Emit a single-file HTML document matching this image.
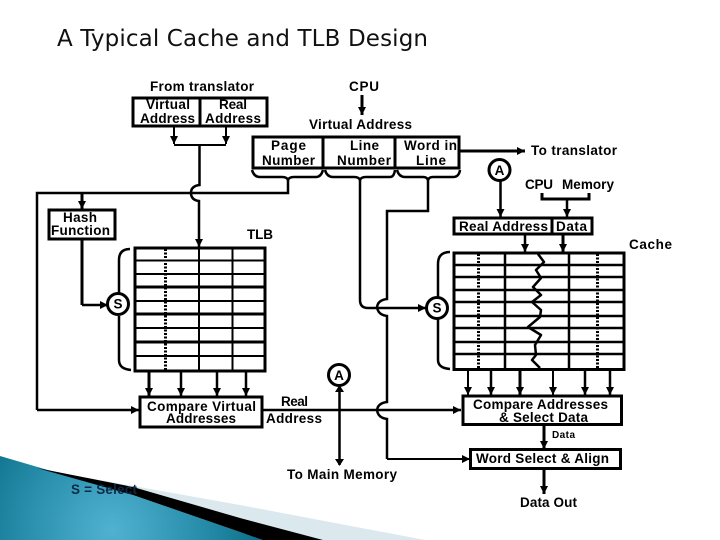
<!DOCTYPE html>
<html><head><meta charset="utf-8"><style>
html,body{margin:0;padding:0;background:#fff}
svg{display:block}
text{font-family:"Liberation Sans",Arial,sans-serif;font-size:13.5px;font-weight:700;fill:#000}
.l{fill:none;stroke:#000;stroke-width:2}
.t{fill:none;stroke:#000;stroke-width:3}
</style></head><body>
<svg xmlns="http://www.w3.org/2000/svg" width="720" height="540" viewBox="0 0 720 540">
<defs>
<radialGradient id="g" gradientUnits="userSpaceOnUse" cx="112" cy="530" r="150"><stop offset="0" stop-color="#50b2d0"/><stop offset="0.55" stop-color="#2a90ae"/><stop offset="1" stop-color="#0a7089"/></radialGradient>
<marker id="a" markerUnits="userSpaceOnUse" markerWidth="10" markerHeight="10" refX="8" refY="4" orient="auto"><path d="M0 0L8 4L0 8z" fill="#000"/></marker>
</defs>
<rect width="720" height="540" fill="#fff"/>

<!-- corner decoration -->
<polygon points="83,477 240,505 425,540 323,540" fill="#dbe9ef"/>
<polygon points="0,456 133,495 240,532 265,540 0,540" fill="url(#g)"/>
<polygon points="37,468 133,487 240,518 323,540 263,540 240,532 133,495" fill="#000"/>
<text x="71" y="494" textLength="66" style="fill:#0e2a48">S = Select</text>

<!-- title -->
<text x="57" y="46" textLength="371" style="font-family:'DejaVu Sans',sans-serif;font-size:23px;font-weight:400;fill:#111">A Typical Cache and TLB Design</text>

<!-- From translator box -->
<text x="150" y="91" textLength="104">From translator</text>
<rect x="133" y="98" width="134" height="28" class="t"/>
<line x1="200" y1="98" x2="200" y2="126" class="t"/>
<text x="146" y="109" textLength="44">Virtual</text>
<text x="219" y="109" textLength="28">Real</text>
<text x="140" y="123" textLength="55">Address</text>
<text x="205" y="123" textLength="56">Address</text>
<line x1="174" y1="126" x2="174" y2="144" class="l" marker-end="url(#a)"/>
<line x1="226" y1="126" x2="226" y2="144" class="l" marker-end="url(#a)"/>
<path d="M174 145H226" class="l"/>
<path d="M199.500 145V185Q191 186 191 193Q191 200 199 201V247" class="l" style="stroke-width:2.500" marker-end="url(#a)"/>

<!-- CPU -->
<text x="349" y="91" textLength="30">CPU</text>
<line x1="362" y1="95" x2="362" y2="115" class="t" marker-end="url(#a)"/>
<text x="309" y="129" textLength="103">Virtual Address</text>

<!-- Address fields -->
<rect x="253" y="137" width="206" height="31" class="t"/>
<line x1="323" y1="137" x2="323" y2="168" class="t"/>
<line x1="395" y1="137" x2="395" y2="168" class="t"/>
<text x="271" y="150" textLength="35">Page</text>
<text x="262" y="165" textLength="53">Number</text>
<text x="350" y="150" textLength="29">Line</text>
<text x="337" y="165" textLength="54">Number</text>
<text x="404" y="150" textLength="53">Word in</text>
<text x="416" y="165" textLength="30">Line</text>

<!-- braces -->
<path d="M252 170Q254 177 260 177H282Q287 177 288 180Q289 177 294 177H316Q321 177 323 170" class="l" style="stroke-width:2.500"/>
<path d="M325 170Q327 177 333 177H354Q359 177 360 180Q361 177 366 177H390Q394 177 395 170" class="l" style="stroke-width:2.500"/>
<path d="M397 170Q399 177 405 177H423Q427 177 428 180Q429 177 433 177H453Q459 177 460 170" class="l" style="stroke-width:2.500"/>

<!-- page number line -->
<path d="M288 178V193H37V410" class="l" style="stroke-width:2.500"/>
<line x1="37" y1="410" x2="139" y2="410" class="l" style="stroke-width:2.500" marker-end="url(#a)"/>
<line x1="82" y1="193" x2="82" y2="209" class="t" marker-end="url(#a)"/>

<!-- Hash -->
<rect x="49" y="210" width="66" height="29" class="t"/>
<text x="63" y="222" textLength="34">Hash</text>
<text x="51" y="235" textLength="59">Function</text>
<path d="M82 239V305" class="t"/>
<line x1="82" y1="305" x2="108" y2="305" class="l" style="stroke-width:2.500" marker-end="url(#a)"/>
<text x="247" y="239" textLength="26">TLB</text>

<!-- TLB table -->
<rect x="135" y="248" width="130" height="123" class="t"/>
<path d="M135 260.500H265M135 274H265M135 301H265M135 328H265M135 356H265" class="l"/>
<path d="M135 287H265M135 314H265M135 342H265" class="t"/>
<path d="M199 247V371M232.500 247V371" class="l"/>
<path d="M165.500 249V370" class="t" style="stroke-dasharray:2 1.500"/>

<!-- TLB brace and S -->
<path d="M130 249Q119 249 119 260V293M119 316V360Q119 369 131 370" class="l" style="stroke-width:2.500"/>
<circle cx="118" cy="304" r="10.500" fill="#fff" stroke="#000" stroke-width="3"/>
<text x="118" y="308.500" text-anchor="middle">S</text>

<!-- TLB to compare -->
<line x1="149" y1="372" x2="149" y2="396" class="t" marker-end="url(#a)"/>
<line x1="181" y1="372" x2="181" y2="396" class="l" style="stroke-width:2.500" marker-end="url(#a)"/>
<line x1="217" y1="372" x2="217" y2="396" class="l" style="stroke-width:2.500" marker-end="url(#a)"/>
<line x1="246" y1="372" x2="246" y2="396" class="l" style="stroke-width:2.500" marker-end="url(#a)"/>

<!-- Compare Virtual -->
<rect x="140" y="397" width="122" height="30" class="t"/>
<text x="147" y="411" textLength="109">Compare Virtual</text>
<text x="166" y="423" textLength="70">Addresses</text>
<text x="281" y="406" textLength="27">Real</text>
<text x="266" y="423" textLength="56">Address</text>
<line x1="262" y1="410" x2="461" y2="410" class="l" style="stroke-width:2.500" marker-end="url(#a)"/>

<!-- A below TLB -->
<line x1="339.500" y1="387" x2="339.500" y2="465" class="l" style="stroke-width:2.500"/>
<path d="M335 392L339.500 385L344 392zM335 459L339.500 466L344 459z" fill="#000"/>
<circle cx="339" cy="375" r="10.500" fill="#fff" stroke="#000" stroke-width="3"/>
<text x="339" y="380" text-anchor="middle">A</text>
<text x="287" y="479" textLength="110">To Main Memory</text>

<!-- line number route -->
<path d="M360 178V300Q360 308 368 308H378" class="l" style="stroke-width:2.500"/>
<line x1="378" y1="308" x2="426" y2="308" class="l" style="stroke-width:2.500" marker-end="url(#a)"/>
<path d="M428 178V211H387V299Q378 300 377 307Q378 315 387 316V402Q378 403 377 410Q378 418 387 419V459" class="l" style="stroke-width:2.500;fill:none"/>
<line x1="387" y1="459" x2="470" y2="459" class="l" style="stroke-width:2" marker-end="url(#a)"/>

<!-- To translator -->
<line x1="460" y1="151" x2="525" y2="151" class="t" marker-end="url(#a)"/>
<text x="531" y="155" textLength="86">To translator</text>
<line x1="500.500" y1="181" x2="500.500" y2="217" class="l" style="stroke-width:2.500" marker-end="url(#a)"/>
<circle cx="499.500" cy="170" r="10.500" fill="#fff" stroke="#000" stroke-width="3"/>
<text x="499.500" y="175" text-anchor="middle">A</text>
<text x="525" y="189" textLength="28">CPU</text>
<text x="562" y="189" textLength="52">Memory</text>
<path d="M542 193V199H589V193" class="t"/>
<line x1="567" y1="199" x2="567" y2="217" class="l" style="stroke-width:2.500" marker-end="url(#a)"/>

<!-- Real Address / Data -->
<rect x="454" y="218" width="138" height="16" class="t"/>
<line x1="552" y1="218" x2="552" y2="234" class="t"/>
<text x="459" y="231" textLength="89">Real Address</text>
<text x="556" y="231" textLength="31">Data</text>
<line x1="525" y1="235" x2="525" y2="252" class="l" style="stroke-width:2.500" marker-end="url(#a)"/>
<line x1="563" y1="235" x2="563" y2="252" class="t" marker-end="url(#a)"/>
<text x="629" y="249" textLength="43">Cache</text>

<!-- Cache table -->
<rect x="454" y="253" width="170" height="116.500" class="t"/>
<path d="M454 265H624M454 277H624M454 290H624M454 302H624M454 316H624M454 328H624M454 342H624M454 354H624" class="l" style="stroke-width:2.500"/>
<path d="M505 253V369M569 253V369" class="l" style="stroke-width:2.500"/>
<path d="M478.500 254V369M597.500 254V369" class="t" style="stroke-dasharray:2 1.500"/>
<path d="M538 254L544 262L536 270L541 278L533 287L541 295L532 302L541 310L540 317L528 327L541 335L535 345L536 355L532 360L540 368" class="l" style="stroke-width:2.500;stroke-linejoin:round"/>

<!-- Cache brace and S -->
<path d="M450 252Q438 252 438 264V297M438 319V360Q438 368 450 369" class="l" style="stroke-width:2.500"/>
<circle cx="437" cy="308" r="10.500" fill="#fff" stroke="#000" stroke-width="3"/>
<text x="437" y="312.500" text-anchor="middle">S</text>

<!-- Cache to compare -->
<line x1="468" y1="371" x2="468" y2="395" class="l" marker-end="url(#a)"/>
<line x1="491" y1="371" x2="491" y2="395" class="l" style="stroke-width:2.500" marker-end="url(#a)"/>
<line x1="520" y1="371" x2="520" y2="395" class="t" marker-end="url(#a)"/>
<line x1="553" y1="371" x2="553" y2="395" class="l" marker-end="url(#a)"/>
<line x1="585" y1="371" x2="585" y2="395" class="l" style="stroke-width:2.500" marker-end="url(#a)"/>
<line x1="610" y1="371" x2="610" y2="395" class="l" style="stroke-width:2.500" marker-end="url(#a)"/>

<!-- Compare Addresses -->
<rect x="463" y="396" width="158.500" height="28.500" class="t"/>
<text x="473" y="409" textLength="135">Compare Addresses</text>
<text x="499" y="422" textLength="89">&amp; Select Data</text>
<line x1="544" y1="425" x2="544" y2="449" class="t" marker-end="url(#a)"/>
<text x="552" y="438" textLength="23" style="font-size:10px">Data</text>

<!-- Word Select -->
<rect x="470.500" y="449.500" width="150" height="19" class="t"/>
<text x="476" y="463" textLength="133">Word Select &amp; Align</text>
<line x1="544" y1="469" x2="544" y2="494" class="t" marker-end="url(#a)"/>
<text x="520" y="507" textLength="57">Data Out</text>
</svg>
</body></html>
